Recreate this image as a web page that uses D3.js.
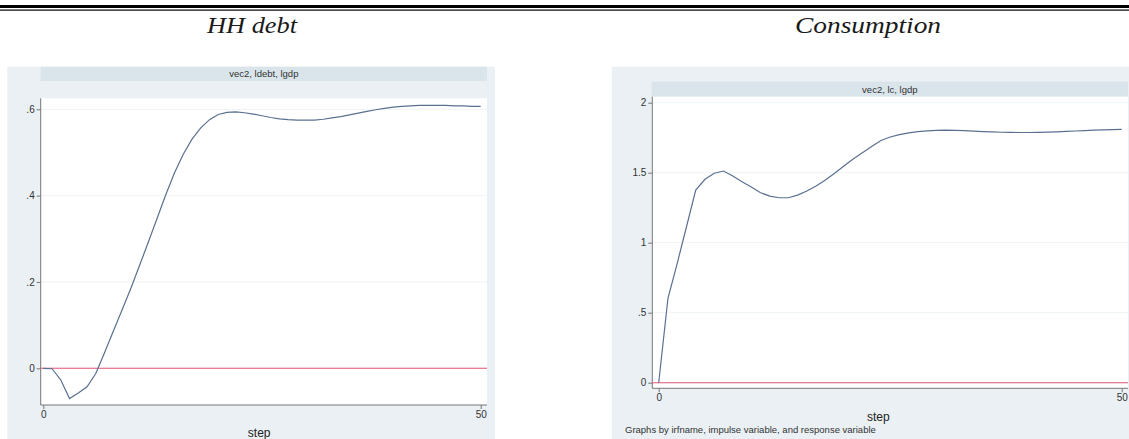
<!DOCTYPE html>
<html>
<head>
<meta charset="utf-8">
<script src="https://cdn.jsdelivr.net/npm/d3@7"></script>
<style>
  html, body { margin: 0; padding: 0; background: #fff; }
  svg { display: block; }
</style>
</head>
<body>
<svg id="chart" width="1129" height="439"></svg>
<script>
// Impulse responses to an lgdp shock, steps 0..50
const steps = d3.range(0, 51);

const debtResponse = [
  0, -0.001, -0.027, -0.07, -0.057, -0.043, -0.012, 0.036, 0.086, 0.135,
  0.185, 0.238, 0.292, 0.347, 0.402, 0.453, 0.496, 0.531, 0.557, 0.576,
  0.588, 0.593, 0.594, 0.592, 0.589, 0.585, 0.581, 0.578, 0.576, 0.575,
  0.575, 0.575, 0.577, 0.580, 0.583, 0.587, 0.591, 0.595, 0.599, 0.602,
  0.605, 0.607, 0.608, 0.609, 0.609, 0.609, 0.609, 0.608, 0.608, 0.607,
  0.607
];

const consumptionResponse = [
  0, 0.603, 0.853, 1.114, 1.376, 1.453, 1.496, 1.512, 1.476, 1.436,
  1.398, 1.357, 1.333, 1.321, 1.321, 1.340, 1.369, 1.405, 1.448, 1.496,
  1.548, 1.598, 1.643, 1.688, 1.730, 1.755, 1.772, 1.784, 1.793, 1.799,
  1.802, 1.804, 1.803, 1.800, 1.797, 1.794, 1.791, 1.789, 1.788, 1.787,
  1.787, 1.788, 1.790, 1.792, 1.795, 1.798, 1.801, 1.804, 1.806, 1.808,
  1.810
];

const panelTitles = ["HH debt", "Consumption"];
const stripLabels = ["vec2, ldebt, lgdp", "vec2, lc, lgdp"];
const debtTicks = [0, 0.2, 0.4, 0.6];
const consumptionTicks = [0, 0.5, 1, 1.5, 2];
const stepTicks = [0, 50];
const footnote = "Graphs by irfname, impulse variable, and response variable";

const svg = d3.select("#chart");

// double rule across the top
svg.append("rect").attr("x", 0).attr("y", 5).attr("width", 1129).attr("height", 3).attr("fill", "#000");
svg.append("rect").attr("x", 0).attr("y", 9.5).attr("width", 1129).attr("height", 1.2).attr("fill", "#000");

// Stata-style labels: ".6", "1.5", "0"
const tickFmt = v => d3.format("~g")(v).replace(/^0\./, ".");

const panels = [
  {
    title: panelTitles[0], strip: stripLabels[0], values: debtResponse, ticks: debtTicks,
    titleX: 252, titleW: 90,
    bg: [7.3, 66.7, 495, 439], stripBox: [40.7, 66.7, 487, 81],
    plot: [40.7, 98.3, 487, 405],
    xRange: [43.3, 480.7], yDomain: [0, 0.6], yRange: [368.3, 109.3],
    stepY: 437, note: false
  },
  {
    title: panelTitles[1], strip: stripLabels[1], values: consumptionResponse, ticks: consumptionTicks,
    titleX: 868, titleW: 146,
    bg: [611.7, 66.7, 1129, 439], stripBox: [651.7, 81.7, 1128, 96.7],
    plot: [652.3, 96.7, 1128, 388.3],
    xRange: [658.7, 1121.7], yDomain: [0, 2], yRange: [382.7, 102.7],
    stepY: 421, note: true
  }
];

panels.forEach(p => {
  const g = svg.append("g");
  const [px0, py0, px1, py1] = p.plot;

  // panel title
  g.append("text")
    .attr("x", p.titleX).attr("y", 33)
    .attr("text-anchor", "middle")
    .attr("font-family", "'Liberation Serif', 'DejaVu Serif', serif")
    .attr("font-style", "italic")
    .attr("font-size", 24)
    .attr("textLength", p.titleW)
    .attr("lengthAdjust", "spacingAndGlyphs")
    .attr("fill", "#1a1a1a")
    .text(p.title);

  // graph region background
  g.append("rect")
    .attr("x", p.bg[0]).attr("y", p.bg[1])
    .attr("width", p.bg[2] - p.bg[0]).attr("height", p.bg[3] - p.bg[1])
    .attr("fill", "#eaf0f3");

  // by-group strip
  g.append("rect")
    .attr("x", p.stripBox[0]).attr("y", p.stripBox[1])
    .attr("width", p.stripBox[2] - p.stripBox[0]).attr("height", p.stripBox[3] - p.stripBox[1])
    .attr("fill", "#d9e4eb");
  g.append("text")
    .attr("x", (p.stripBox[0] + p.stripBox[2]) / 2)
    .attr("y", (p.stripBox[1] + p.stripBox[3]) / 2 + 3.5)
    .attr("text-anchor", "middle")
    .attr("font-family", "'Liberation Sans', Arial, sans-serif")
    .attr("font-size", 9.5)
    .attr("fill", "#333")
    .text(p.strip);

  // plot region
  g.append("rect")
    .attr("x", px0).attr("y", py0)
    .attr("width", px1 - px0).attr("height", py1 - py0)
    .attr("fill", "#fff");

  const x = d3.scaleLinear().domain([0, 50]).range(p.xRange);
  const y = d3.scaleLinear().domain(p.yDomain).range(p.yRange);

  // horizontal grid
  g.append("g").selectAll("line").data(p.ticks).join("line")
    .attr("x1", px0).attr("x2", px1)
    .attr("y1", d => y(d)).attr("y2", d => y(d))
    .attr("stroke", "#eef3f5").attr("stroke-width", 1);

  // y axis
  const yAxis = g.append("g")
    .attr("transform", `translate(${px0},0)`)
    .call(d3.axisLeft(y).tickValues(p.ticks).tickFormat(tickFmt).tickSize(4).tickPadding(2));
  yAxis.select(".domain").attr("d", `M0,${py0}V${py1}`).attr("stroke", "#777");
  yAxis.selectAll(".tick line").attr("stroke", "#777");
  yAxis.selectAll("text")
    .attr("font-family", "'Liberation Sans', Arial, sans-serif")
    .attr("font-size", 10).attr("fill", "#333");

  // x axis
  const xAxis = g.append("g")
    .attr("transform", `translate(0,${py1})`)
    .call(d3.axisBottom(x).tickValues(stepTicks).tickFormat(d3.format("d")).tickSize(4).tickPadding(2));
  xAxis.select(".domain").attr("d", `M${px0},0H${px1}`).attr("stroke", "#777");
  xAxis.selectAll(".tick line").attr("stroke", "#777");
  xAxis.selectAll("text")
    .attr("font-family", "'Liberation Sans', Arial, sans-serif")
    .attr("font-size", 10).attr("fill", "#333");

  // axis title
  g.append("text")
    .attr("x", (p.bg[0] + p.bg[2]) / 2 + 8).attr("y", p.stepY)
    .attr("text-anchor", "middle")
    .attr("font-family", "'Liberation Sans', Arial, sans-serif")
    .attr("font-size", 12).attr("fill", "#222")
    .text("step");

  if (p.note) {
    g.append("text")
      .attr("x", 625).attr("y", 433)
      .attr("font-family", "'Liberation Sans', Arial, sans-serif")
      .attr("font-size", 9.5).attr("fill", "#333")
      .text(footnote);
  }

  // zero reference line
  g.append("line")
    .attr("x1", px0).attr("x2", px1)
    .attr("y1", y(0)).attr("y2", y(0))
    .attr("stroke", "#e4587a").attr("stroke-width", 1.1);

  // response line
  g.append("path")
    .datum(steps)
    .attr("fill", "none")
    .attr("stroke", "#5a7090")
    .attr("stroke-width", 1.2)
    .attr("d", d3.line().x(s => x(s)).y(s => y(p.values[s])));
});
</script>
</body>
</html>
